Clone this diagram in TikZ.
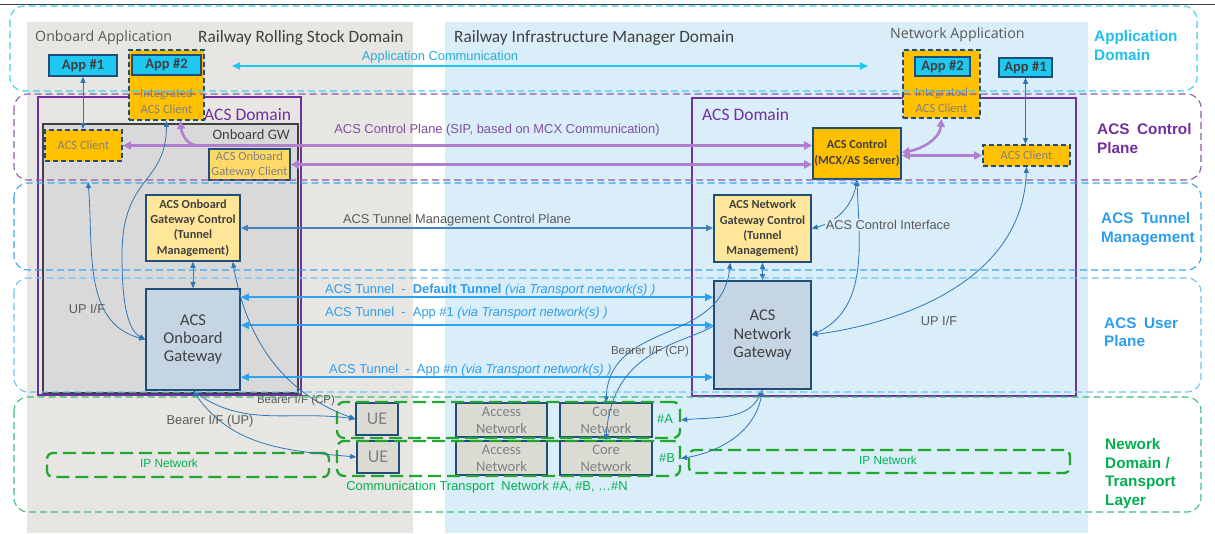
\documentclass[tikz,border=0pt]{standalone}
\usepackage{fontspec}
\setmainfont{Carlito}
\newfontfamily\arial{Liberation Sans}
\newfontfamily\segoe{Open Sans}
\usetikzlibrary{arrows.meta,calc}
\definecolor{bggray}{HTML}{E7E6E2}
\definecolor{bgblue}{HTML}{DAEEF9}
\definecolor{gwgray}{HTML}{D9D9D9}
\definecolor{dkblue}{HTML}{1F4E79}
\definecolor{cyanbox}{HTML}{1EC8F0}
\definecolor{orng}{HTML}{FFC000}
\definecolor{lorng}{HTML}{FFD966}
\definecolor{lyel}{HTML}{FFE699}
\definecolor{gwblue}{HTML}{C5D5E4}
\definecolor{uegray}{HTML}{DCDBD3}
\definecolor{acspurple}{HTML}{7030A0}
\definecolor{cppurple}{HTML}{B07FD0}
\definecolor{cpline}{HTML}{8E5BA6}
\definecolor{cplabel}{HTML}{7F4F9F}
\definecolor{appcyan}{HTML}{3ED0F0}
\definecolor{applabel}{HTML}{1EC0EE}
\definecolor{tunblue}{HTML}{3AA5F0}
\definecolor{tunlabel}{HTML}{2D9EEE}
\definecolor{userblue}{HTML}{70C2F5}
\definecolor{netgreen}{HTML}{3DBE78}
\definecolor{netlabel}{HTML}{00B050}
\definecolor{grpgreen}{HTML}{22A630}
\definecolor{conblue}{HTML}{2E75B6}
\definecolor{tunline}{HTML}{2BA3F1}
\definecolor{tmline}{HTML}{4682BE}
\definecolor{txtdark}{HTML}{404040}
\definecolor{txtgray}{HTML}{808080}
\definecolor{txtmid}{HTML}{595959}
\definecolor{acline}{HTML}{1CC8F2}
\definecolor{aclabel}{HTML}{25AEDB}
\begin{document}
\begin{tikzpicture}[x=1pt,y=-1pt,
 lay/.style={rounded corners=14pt, dash pattern=on 7pt off 4pt, line width=1.1pt},
 box/.style={draw=dkblue, line width=1.6pt, inner sep=0pt, align=center, text=txtdark},
 dbox/.style={box, dash pattern=on 5pt off 3pt, line width=1.8pt},
 grp/.style={draw=grpgreen, line width=2.3pt, dash pattern=on 13pt off 6pt, rounded corners=7pt, inner sep=0pt},
 lbl/.style={inner sep=0pt, align=center},
 con/.style={draw=conblue, line width=0.8pt, {Triangle[length=6pt,width=5pt]}-{Triangle[length=6pt,width=5pt]}},
 conone/.style={draw=conblue, line width=0.8pt, -{Triangle[length=6pt,width=5pt]}},
 cpa/.style={draw=cppurple, line width=2.6pt, {Triangle[length=8pt,width=8pt]}-{Triangle[length=8pt,width=8pt]}},
 cpone/.style={draw=cppurple, line width=2.6pt, -{Triangle[length=8pt,width=8pt]}},
 tun/.style={draw=tunline, line width=2pt, {Triangle[length=8pt,width=7pt]}-{Triangle[length=8pt,width=7pt]}},
 tmg/.style={draw=tmline, line width=1.6pt, {Triangle[length=7pt,width=6pt]}-{Triangle[length=7pt,width=6pt]}},
 gl/.style={lbl, font=\arial\fontsize{12.8}{14}\selectfont, text=txtmid},
 sl/.style={lbl, font=\arial\fontsize{11.5}{13}\selectfont, text=txtmid},
 al/.style={lbl, font=\arial\fontsize{12.9}{14}\selectfont},
 rl/.style={lbl, anchor=west, align=left, font=\arial\bfseries\fontsize{15.3}{18.5}\selectfont},
]
\useasboundingbox (0,0) rectangle (1215,533);
\fill[white] (0,0) rectangle (1215,533);
% domain backgrounds
\fill[bggray] (27,22) rectangle (413,533);
\fill[bgblue] (445,22) rectangle (1088,533);
\draw[txtdark, line width=1.4pt] (0,4.5) -- (1215,4.5);

% titles
\node[lbl, anchor=west, font=\segoe\fontsize{14.2}{16}\selectfont, text=txtmid] (tOA) at (35,38) {Onboard Application};
\node[lbl, anchor=west, font=\fontsize{17.3}{19}\selectfont, text=txtdark] (tRS) at (198,38) {Railway Rolling Stock Domain};
\node[lbl, anchor=west, font=\fontsize{17.3}{19}\selectfont, text=txtdark] (tIM) at (454,38) {Railway Infrastructure Manager Domain};
\node[lbl, anchor=west, font=\segoe\fontsize{14.2}{16}\selectfont, text=txtmid] (tNA) at (890,35) {Network Application};

% ACS domains
\node[draw=acspurple, line width=2.8pt, minimum width=263pt, minimum height=298pt, inner sep=0pt] (acsdomL) at (169.5,246) {};
\node[draw=txtdark, fill=gwgray, line width=1.8pt, minimum width=255pt, minimum height=269pt, inner sep=0pt] (obgw) at (170.5,258.5) {};
\node[lbl, anchor=east, font=\fontsize{14.5}{16}\selectfont, text=txtdark] (obgwt) at (290,135) {Onboard GW};
\node[draw=acspurple, line width=2.8pt, minimum width=384pt, minimum height=298pt, inner sep=0pt] (acsdomR) at (884,247) {};
\node[lbl, anchor=west, font=\fontsize{17.5}{20}\selectfont, text=acspurple] (acsdomLt) at (204,115) {ACS Domain};
\node[lbl, anchor=west, font=\fontsize{17.5}{20}\selectfont, text=acspurple] (acsdomRt) at (702,115) {ACS Domain};

% application boxes
\node[box, fill=cyanbox, minimum width=68pt, minimum height=21pt, font=\bfseries\fontsize{14.5}{16}\selectfont] (app1L) at (83,65.5) {App \#1};
\node[dbox, fill=orng, minimum width=75pt, minimum height=70pt] (intL) at (166.5,85) {};
\node[box, fill=cyanbox, minimum width=69pt, minimum height=20pt, font=\bfseries\fontsize{14.5}{16}\selectfont] (app2L) at (166.5,65) {App \#2};
\node[lbl, text=txtgray, font=\fontsize{12.5}{16}\selectfont] (intLt) at (166.5,101) {Integrated\\ACS Client};

\node[dbox, fill=orng, minimum width=77pt, minimum height=68pt] (intR) at (941.5,84) {};
\node[box, fill=cyanbox, minimum width=55pt, minimum height=19pt, font=\bfseries\fontsize{14.5}{16}\selectfont] (app2R) at (942.5,66.5) {App \#2};
\node[lbl, text=txtgray, font=\fontsize{12.5}{16}\selectfont] (intRt) at (941.5,100) {Integrated\\ACS Client};
\node[box, fill=cyanbox, minimum width=53pt, minimum height=19pt, font=\bfseries\fontsize{14.5}{16}\selectfont] (app1R) at (1025.5,67.5) {App \#1};

% ACS clients and controls
\node[dbox, fill=orng, minimum width=77pt, minimum height=31pt, text=txtgray, font=\fontsize{12.5}{14}\selectfont] (acsL) at (83.5,145.5) {ACS Client};
\node[box, fill=lorng, minimum width=81pt, minimum height=31pt, text=txtgray, font=\fontsize{12.5}{15}\selectfont] (ogc) at (249.5,164.5) {ACS Onboard\\Gateway Client};
\node[box, fill=lyel, minimum width=94pt, minimum height=66pt, font=\bfseries\fontsize{12.3}{15.3}\selectfont] (OGCtrl) at (193,228) {ACS Onboard\\Gateway Control\\(Tunnel\\Management)};
\node[box, fill=gwblue, minimum width=94pt, minimum height=101pt, font=\fontsize{16.5}{18}\selectfont] (OGW) at (193,339.5) {ACS\\Onboard\\Gateway};

\node[box, fill=orng, minimum width=88pt, minimum height=51pt, font=\bfseries\fontsize{12.3}{16}\selectfont] (ACSCtrl) at (857,153.5) {ACS Control\\(MCX/AS Server)};
\node[dbox, fill=orng, minimum width=87pt, minimum height=21pt, text=txtgray, font=\fontsize{12.5}{14}\selectfont] (acsR) at (1026.5,155.5) {ACS Client};
\node[box, fill=lyel, minimum width=97pt, minimum height=67pt, font=\bfseries\fontsize{12.3}{15.3}\selectfont] (NGCtrl) at (762.5,228.5) {ACS Network\\Gateway Control\\(Tunnel\\Management)};
\node[box, fill=gwblue, minimum width=97pt, minimum height=108pt, font=\fontsize{16.5}{18.5}\selectfont] (NGW) at (762.5,335) {ACS\\Network\\Gateway};

% transport boxes
\node[box, fill=uegray, minimum width=42pt, minimum height=32pt, text=txtgray, font=\fontsize{18}{20}\selectfont] (ueA) at (377,419) {UE};
\node[box, fill=uegray, minimum width=42pt, minimum height=32pt, text=txtgray, font=\fontsize{18}{20}\selectfont] (ueB) at (378,457) {UE};
\node[box, fill=uegray, minimum width=91pt, minimum height=34pt, text=txtgray, font=\fontsize{14.5}{17}\selectfont] (accA) at (501.5,420) {Access\\Network};
\node[box, fill=uegray, minimum width=92pt, minimum height=34pt, text=txtgray, font=\fontsize{14.5}{17}\selectfont] (coreA) at (606,420) {Core\\Network};
\node[box, fill=uegray, minimum width=91pt, minimum height=34pt, text=txtgray, font=\fontsize{14.5}{17}\selectfont] (accB) at (501.5,458) {Access\\Network};
\node[box, fill=uegray, minimum width=92pt, minimum height=34pt, text=txtgray, font=\fontsize{14.5}{17}\selectfont] (coreB) at (606,458) {Core\\Network};
\node[grp, minimum width=343pt, minimum height=36pt] (grpA) at (508.5,420) {};
\node[grp, minimum width=343pt, minimum height=35pt] (grpB) at (508.5,458.5) {};
\node[al, text=netlabel] (hA) at (665,419) {\#A};
\node[al, text=netlabel] (hB) at (667,458) {\#B};
\node[grp, rounded corners=6pt, minimum width=282pt, minimum height=24pt] (ipL) at (188,465) {};
\node[lbl, text=netlabel, font=\arial\fontsize{11.8}{13}\selectfont] (ipLt) at (169,463) {IP Network};
\node[grp, rounded corners=6pt, minimum width=381pt, minimum height=23pt] (ipR) at (879.5,461.5) {};
\node[lbl, text=netlabel, font=\arial\fontsize{11.8}{13}\selectfont] (ipRt) at (888,460) {IP Network};
\node[al, text=netlabel] (ctn) at (487,487) {Communication Transport\ \ Network \#A, \#B, \ldots\#N};

% application communication
\coordinate (acL) at (232,66);
\coordinate (acR) at (868,66);
\draw[draw=acline, line width=1.6pt, {Triangle[length=8pt,width=7pt]}-{Triangle[length=8pt,width=7pt]}] (acL) -- (acR);
\node[al, text=aclabel] (acT) at (440,57) {Application Communication};

% ACS control plane (purple)
\draw[cpa] (acsL.east) -- (acsL.east -| ACSCtrl.west);
\coordinate (cpbr) at (198,145.5);
\draw[cpone] (cpbr) to[out=180,in=-85] ($(intL.south)+(14,0)$);
\draw[cpa] (ogc.east) -- (ogc.east -| ACSCtrl.west);
\draw[cpa] ($(ACSCtrl.east)+(0,-1)$) to[out=10,in=-95] (intR.south);
\draw[cpa] (acsR.west -| ACSCtrl.east) -- (acsR.west);
\node[al, text=cplabel] (cpT) at (497,130) {ACS Control Plane (SIP, based on MCX Communication)};

% thin connectors
\draw[con] (app1L.south) -- (app1L.south |- acsL.north);
\draw[con] (app1R.south) -- (app1R.south |- acsR.north);
\coordinate (upLtop) at (88,182);
\draw[con] (upLtop) to[out=-85,in=165] (OGW.west);
\draw[con] (intL.south) .. controls (166,185) and (122,175) .. (122,255) .. controls (122,305) and (128,330) .. (OGW.west);
\draw[con] (OGCtrl.south) -- (OGW.north);
\draw[con] (NGCtrl.south) -- (NGW.north);
\draw[con] (ACSCtrl.south) to[out=-100,in=15] (NGCtrl.east);
\draw[con] (ACSCtrl.south) to[out=-88,in=25] (NGW.east);
\draw[con] (acsR.south) to[out=-92,in=8] (NGW.east);
\node[gl, fill=bgblue, inner sep=1pt] (cifT) at (888,225) {ACS Control Interface};
\node[gl] (upRT) at (939,321) {UP I/F};
\node[gl] (upLT) at (87,309) {UP I/F};

% tunnel management
\draw[tmg] (OGCtrl.east) -- (OGCtrl.east -| NGCtrl.west);
\node[gl] (tmT) at (457,220) {ACS Tunnel Management Control Plane};

% tunnels
\coordinate (t1) at ($(OGW.north east)+(0,9)$);
\coordinate (t2) at ($(OGW.north east)+(0,37)$);
\coordinate (t3) at ($(OGW.north east)+(0,89)$);
\draw[tun] (t1) -- (t1 -| NGW.west);
\draw[tun] (t2) -- (t2 -| NGW.west);
\draw[tun] (t3) -- (t3 -| NGW.west);
\node[al, anchor=west, text=tunlabel] (t1T) at (325,290) {ACS Tunnel\ \ -\ \ \textbf{Default Tunnel} \textit{(via Transport network(s) )}};
\node[al, anchor=west, text=tunlabel] (t2T) at (325,313) {ACS Tunnel\ \ -\ \ App \#1 \textit{(via Transport network(s) )}};
\node[al, anchor=west, text=tunlabel] (t3T) at (329,370) {ACS Tunnel\ \ -\ \ App \#n \textit{(via Transport network(s) )}};

% bearer connectors
\draw[con] (OGW.south) to[out=-35,in=172] (ueA.west);
\draw[con] (OGW.south) to[out=-55,in=175] (ueB.west);
\draw[con] ($(OGCtrl.south east)+(-8,0)$) to[out=-80,in=160] (ueA.west);
\draw[con] ($(NGCtrl.south west)+(17,0)$) .. controls (722,345) and (610,320) .. (coreA.north);
\draw[conone] ($(NGW.north west)+(0,46)$) .. controls (680,345) and (612,350) .. (coreB.north);
\draw[con] (NGW.south) to[out=-115,in=5] (grpA.east);
\draw[con] (NGW.south) to[out=-100,in=10] (grpB.east);
\node[sl] (bcpL) at (296,401) {Bearer I/F (CP)};
\node[gl] (bupL) at (210,421) {Bearer I/F (UP)};
\node[sl] (bcpR) at (650,352) {Bearer I/F (CP)};

% layers
\draw[lay, draw=appcyan] (10,6) rectangle (1197,91);
\draw[lay, draw=cpline] (14,94) rectangle (1201,180);
\draw[lay, draw=tunblue] (14,183) rectangle (1201,270);
\draw[lay, draw=userblue] (14,278) rectangle (1201,392);
\draw[lay, draw=netgreen] (14,397) rectangle (1201,512);

% layer labels
\node[rl, text=applabel] (lApp) at (1094,45.5) {Application\\Domain};
\node[rl, text=acspurple] (lCP) at (1097,138.5) {ACS\hspace{0.5em}Control\\Plane};
\node[rl, text=tunlabel] (lTM) at (1101,229) {ACS\hspace{0.5em}Tunnel\\Management};
\node[rl, text=tunlabel] (lUP) at (1104,332) {ACS\hspace{0.5em}User\\Plane};
\node[rl, text=netlabel] (lNet) at (1105,473.5) {Nework\\Domain /\\Transport\\Layer};
\end{tikzpicture}
\end{document}
